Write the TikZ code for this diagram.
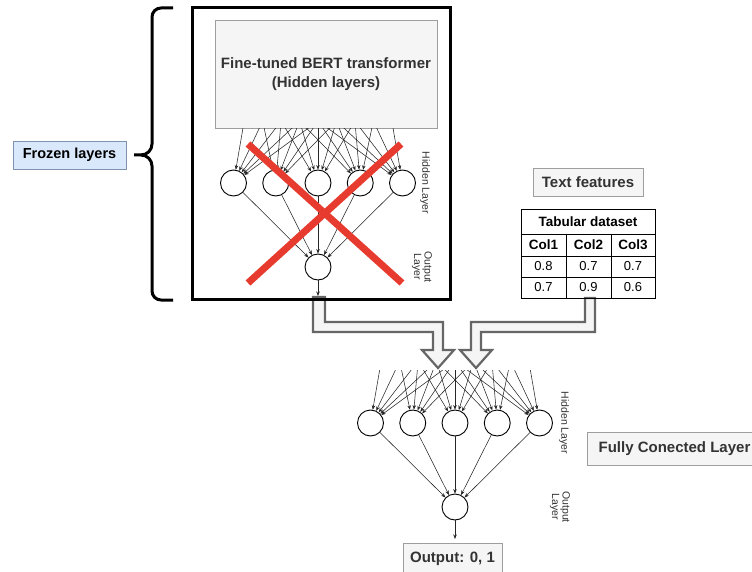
\documentclass[tikz,border=0pt]{standalone}
\usepackage{fontspec}
\setmainfont{Liberation Sans}
\usetikzlibrary{arrows.meta}
\definecolor{txtgrey}{HTML}{333333}
\definecolor{boxfill}{HTML}{F5F5F5}
\definecolor{boxline}{HTML}{9E9E9E}
\definecolor{arrline}{HTML}{666666}
\definecolor{bluefill}{HTML}{DAE8FC}
\definecolor{blueline}{HTML}{7F93B0}
\definecolor{xred}{HTML}{E63B2E}
\tikzset{
  greybox/.style={draw=boxline, fill=boxfill, line width=0.8pt, inner sep=0pt, text=txtgrey, font=\bfseries\fontsize{15}{18.5}\selectfont, align=center},
  neuron/.style={circle, draw=black, fill=white, line width=0.9pt, minimum size=26pt, inner sep=0pt},
  arr/.style={-{Stealth[length=4.5pt,width=3.5pt]}, line width=0.55pt, draw=black!85},
  lbl/.style={text=txtgrey, font=\fontsize{10.5}{10.5}\selectfont, align=center, inner sep=0pt},
  redx/.style={draw=xred, line width=7pt},
  hollow/.style={draw=arrline, fill=boxfill, line width=2.2pt, line join=miter},
  cell/.style={inner sep=0pt, font=\fontsize{13}{15}\selectfont},
  hcell/.style={inner sep=0pt, font=\bfseries\fontsize{13.5}{15}\selectfont},
}
\begin{document}
\begin{tikzpicture}[x=1pt,y=-1pt]
\useasboundingbox (0,0) rectangle (752,572);

% ---------- hollow block arrows ----------
\draw[hollow] (313,297) -- (313,332) -- (433,332) -- (433,350) -- (422,350) -- (438,368) -- (454,350) -- (443,350) -- (443,322) -- (325,322) -- (325,297) -- cycle;
\draw[hollow] (595,298) -- (595,332) -- (481,332) -- (481,350) -- (492,350) -- (476,368) -- (460,350) -- (471,350) -- (471,322) -- (585,322) -- (585,298) -- cycle;

% ---------- frozen part ----------
\node[greybox, minimum width=222pt, minimum height=108pt] (bert) at (326,74) {Fine-tuned BERT transformer\\(Hidden layers)};

\foreach \k in {1,...,5} {
  \node[neuron] (th\k) at ({318+42.25*(\k-3)},183) {};
  \coordinate (ts\k) at ({318+32.75*(\k-3)},73);
}
\node[neuron] (to) at (318,267) {};
\begin{scope}
  \clip (0,129) rectangle (752,230);
  \foreach \i in {1,...,5} \foreach \j in {1,...,5} \draw[arr] (ts\i) -- (th\j);
\end{scope}
\foreach \j in {1,...,5} \draw[arr] (th\j) -- (to);
\coordinate (toend) at (318,296);
\draw[arr] (to) -- (toend);

\node[lbl, rotate=-90] (thl) at (425,183) {Hidden Layer};
\node[lbl, rotate=-90] (tol) at (422,267) {Output\\Layer};

\draw[redx] (248,144) -- (402,283);
\draw[redx] (401,144) -- (248,283);

\draw[line width=3pt] (192,8) rectangle (450,299);

% brace
\draw[line width=3pt, line cap=butt] (173,8) -- (161,8) to[out=180,in=90] (152,17) -- (152,144) to[out=-90,in=0] (141,155) -- (134,155);
\draw[line width=3pt, line cap=butt] (141,155) to[out=0,in=90] (152,166) -- (152,291) to[out=-90,in=180] (161,300) -- (173,300);

\node[draw=blueline, fill=bluefill, line width=0.8pt, minimum width=113pt, minimum height=28pt, inner sep=0pt, font=\bfseries\fontsize{14.5}{17}\selectfont] (frozen) at (69.5,155) {Frozen layers};

% ---------- text features & table ----------
\node[greybox, minimum width=110pt, minimum height=28pt] (tf) at (588,182) {Text features};

\draw[line width=0.8pt] (521,209) rectangle (655,298);
\draw[line width=0.8pt] (521,234) -- (655,234);
\draw[line width=0.8pt] (521,256) -- (655,256);
\draw[line width=0.8pt] (521,277) -- (655,277);
\draw[line width=0.8pt] (566,234) -- (566,298);
\draw[line width=0.8pt] (611,234) -- (611,298);
\node[hcell] (tabt) at (588,221.5) {Tabular dataset};
\node[hcell] (c1) at (543.5,245) {Col1};
\node[hcell] (c2) at (588.5,245) {Col2};
\node[hcell] (c3) at (633,245) {Col3};
\node[cell] (v11) at (543.5,266.5) {0.8};
\node[cell] (v12) at (588.5,266.5) {0.7};
\node[cell] (v13) at (633,266.5) {0.7};
\node[cell] (v21) at (543.5,287.5) {0.7};
\node[cell] (v22) at (588.5,287.5) {0.9};
\node[cell] (v23) at (633,287.5) {0.6};

% ---------- fully connected part ----------
\foreach \k in {1,...,5} {
  \node[neuron] (bh\k) at ({455+42.25*(\k-3)},423) {};
  \coordinate (bs\k) at ({455+32.75*(\k-3)},313);
}
\node[neuron] (bo) at (455,507) {};
\begin{scope}
  \clip (0,370) rectangle (752,470);
  \foreach \i in {1,...,5} \foreach \j in {1,...,5} \draw[arr] (bs\i) -- (bh\j);
\end{scope}
\foreach \j in {1,...,5} \draw[arr] (bh\j) -- (bo);
\coordinate (boend) at (455,539);
\draw[arr] (bo) -- (boend);

\node[lbl, rotate=-90] (bhl) at (564,423) {Hidden Layer};
\node[lbl, rotate=-90] (bol) at (560,507) {Output\\Layer};

\node[greybox, minimum width=175pt, minimum height=33pt] (fc) at (674.5,448.5) {Fully Conected Layer};
\node[greybox, minimum width=99pt, minimum height=32pt] (out) at (452.5,559) {Output: 0, 1};
\end{tikzpicture}
\end{document}
